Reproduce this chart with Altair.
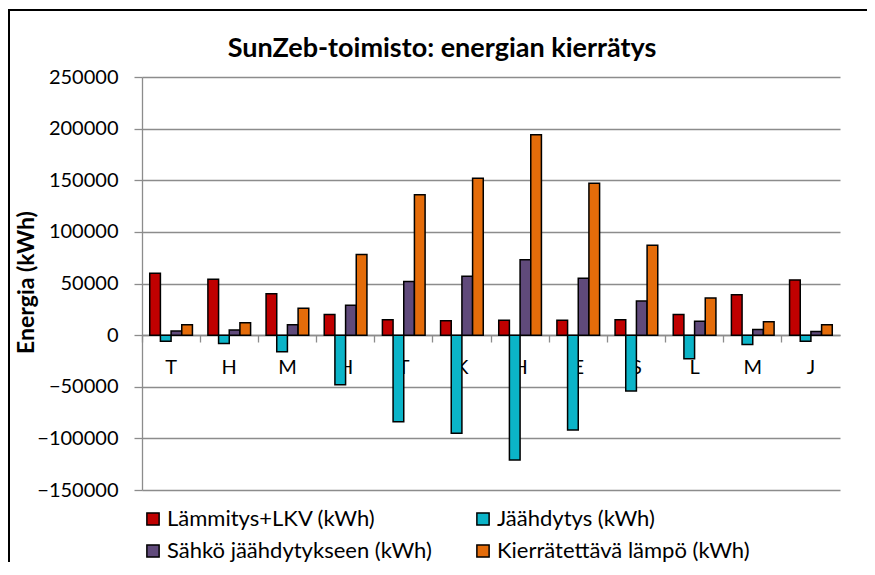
import json
import altair as alt
import pandas as pd

chart_title = "SunZeb-toimisto: energian kierrätys"
y_title = "Energia (kWh)"

months = ["Tammikuu", "Helmikuu", "Maaliskuu", "Huhtikuu", "Toukokuu", "Kesäkuu",
          "Heinäkuu", "Elokuu", "Syyskuu", "Lokakuu", "Marraskuu", "Joulukuu"]
month_labels = ["T", "H", "M", "H", "T", "K", "H", "E", "S", "L", "M", "J"]

series_names = ["Lämmitys+LKV (kWh)", "Jäähdytys (kWh)",
                "Sähkö jäähdytykseen (kWh)", "Kierrätettävä lämpö (kWh)"]
series_colors = ["#C00000", "#0BB4C8", "#604A7B", "#E46C0A"]

heating = [60000, 54000, 40000, 20000, 15000, 14000, 14500, 14500, 15000, 20000, 39000, 53500]
cooling = [-6000, -8000, -16000, -48000, -84000, -95000, -121000, -92000, -54000, -23000, -9000, -6000]
electricity = [4000, 5000, 10000, 29000, 52000, 57000, 73000, 55000, 33000, 13500, 5500, 3500]
recycled = [10000, 12000, 26000, 78000, 136000, 152000, 194000, 147000, 87000, 36000, 13000, 10000]

y_ticks = [-150000, -100000, -50000, 0, 50000, 100000, 150000, 200000, 250000]

rows = []
for name, vals in zip(series_names, [heating, cooling, electricity, recycled]):
    for m, v in zip(months, vals):
        rows.append({"month": m, "series": name, "value": v})
df = pd.DataFrame(rows)

# legend is filled column by column: put entries so rows read like the reference
legend_order = [series_names[0], series_names[2], series_names[1], series_names[3]]
legend_colors = [series_colors[0], series_colors[2], series_colors[1], series_colors[3]]

FONT = "Lato"
GRID = "#8C8C8C"
W, H = 698, 413
ZERO_OFFSET = -155  # pixels from plot bottom to zero line

label_expr = f"{json.dumps(month_labels)}[indexof({json.dumps(months)}, datum.value)]"

x_scale = alt.Scale(paddingInner=0.266, paddingOuter=0.133)

base = alt.Chart(df)

bars = base.mark_bar(stroke="black", strokeWidth=1.5).encode(
    x=alt.X("month:N", sort=months, scale=x_scale,
            axis=alt.Axis(title=None, orient="bottom", offset=ZERO_OFFSET, domain=False,
                          ticks=False, grid=False, labelExpr=label_expr, labelAngle=0,
                          labelFont=FONT, labelFontSize=20, labelColor="black",
                          labelPadding=22, labelBaseline="top")),
    xOffset=alt.XOffset("series:N", sort=series_names,
                        scale=alt.Scale(paddingInner=0, paddingOuter=0)),
    y=alt.Y("value:Q", stack=None,
            scale=alt.Scale(domain=[-150000, 250000], nice=False),
            axis=alt.Axis(values=y_ticks, format="d", grid=True, gridColor=GRID, gridWidth=1.3,
                          domainColor=GRID, domainWidth=1.3, tickColor=GRID, tickWidth=1.3,
                          tickSize=8, labelFont=FONT, labelFontSize=20, labelColor="black",
                          labelPadding=16, title=y_title, titleFont=FONT,
                          titleFontSize=23, titleFontWeight="bold", titleColor="black",
                          titleAngle=270, titleX=-116, titleY=205, titleAlign="center",
                          titleBaseline="middle")),
    color=alt.Color("series:N",
                    scale=alt.Scale(domain=legend_order, range=legend_colors),
                    legend=alt.Legend(title=None, orient="none", legendX=0, legendY=431,
                                      columns=2, symbolType="square", symbolSize=150,
                                      symbolStrokeColor="black", symbolStrokeWidth=1.5,
                                      labelFont=FONT, labelFontSize=22, labelColor="black",
                                      labelOffset=3, columnPadding=40, rowPadding=10,
                                      labelLimit=400)),
)

tick_layer = base.mark_tick(opacity=0).encode(
    x=alt.X("month:N", sort=months, scale=x_scale,
            axis=alt.Axis(title=None, orient="bottom", offset=ZERO_OFFSET, labels=False,
                          ticks=True, tickSize=7, tickColor=GRID, tickWidth=1.3,
                          bandPosition=-0.181, domain=True, domainColor=GRID,
                          domainWidth=1.3, grid=False)),
)

one = alt.Data(values=[{"t": chart_title}])

# chart frame (only its top and left edges fall inside the picture)
frame_top = alt.Chart(one).mark_rect(fill="black", strokeWidth=0).encode(
    x=alt.value(-134), x2=alt.value(W + 200), y=alt.value(-68), y2=alt.value(-66)
)
frame_left = alt.Chart(one).mark_rect(fill="black", strokeWidth=0).encode(
    x=alt.value(-134), x2=alt.value(-132), y=alt.value(-68), y2=alt.value(H + 300)
)

title_text = alt.Chart(one).mark_text(font=FONT, fontSize=27, fontWeight="bold", color="black",
                                      align="center", baseline="alphabetic").encode(
    text="t:N", x=alt.value(300), y=alt.value(-20)
)

chart = alt.layer(frame_top, frame_left, title_text, bars, tick_layer).resolve_axis(
    x="independent"
).properties(
    width=W, height=H,
    autosize=alt.AutoSizeParams(type="none"),
    padding={"left": 134, "top": 69, "right": 27, "bottom": 72},
).configure_view(stroke=None)

chart.save("out.html", embed_options={"renderer": "svg", "actions": False})
